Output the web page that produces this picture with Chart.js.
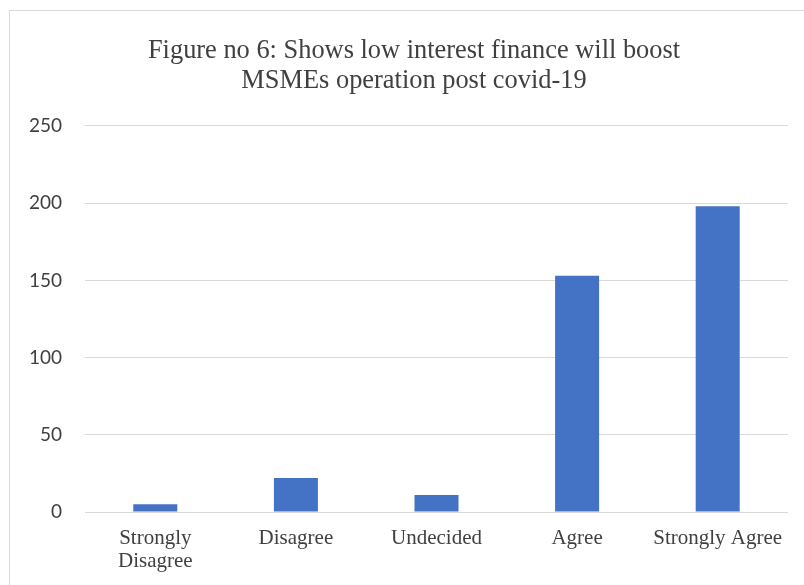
<!DOCTYPE html>
<html>
<head>
<meta charset="utf-8">
<script src="https://cdn.jsdelivr.net/npm/chart.js@4"></script>
<style>
  html, body { margin: 0; padding: 0; background: #ffffff; }
  #frame {
    position: absolute; left: 9px; top: 10px;
    width: 795px; height: 575px;
    border-left: 1px solid #d9d9d9; border-top: 1px solid #d9d9d9;
    box-sizing: border-box;
  }
  #chart { display: block; }
</style>
</head>
<body>
<div id="frame"><canvas id="chart" width="794" height="574"></canvas></div>
<script>
const categories = [["Strongly", "Disagree"], "Disagree", "Undecided", "Agree", "Strongly Agree"];
const responses = [5, 22, 11, 153, 198];
const titleLines = ["Figure no 6: Shows low interest finance will boost", "MSMEs operation post covid-19"];
const yTicks = { min: 0, max: 250, step: 50 };

new Chart(document.getElementById("chart"), {
  type: "bar",
  data: {
    labels: categories,
    datasets: [{
      data: responses,
      backgroundColor: "#4472c4",
      borderWidth: 0,
      barPercentage: 0.313,
      categoryPercentage: 1.0
    }]
  },
  options: {
    responsive: false,
    animation: false,
    layout: { padding: { left: 15, right: 1, top: 0, bottom: 0 } },
    plugins: {
      legend: { display: false },
      tooltip: { enabled: false },
      title: {
        display: true,
        text: titleLines,
        color: "#404040",
        font: { family: "'Liberation Serif', 'Times New Roman', serif", size: 26.4, weight: "normal", lineHeight: 1.136 },
        padding: { top: 25, bottom: 30 }
      }
    },
    scales: {
      x: {
        grid: { display: false, drawTicks: false },
        border: { display: false },
        ticks: {
          color: "#404040",
          padding: 15,
          maxRotation: 0,
          autoSkip: false,
          font: { family: "'Liberation Serif', 'Times New Roman', serif", size: 21, lineHeight: 1.1 }
        },
        afterFit: (scale) => { scale.height = 73; }
      },
      y: {
        min: yTicks.min,
        max: yTicks.max,
        grid: { color: "#d9d9d9", lineWidth: 1, drawTicks: false },
        border: { display: false },
        ticks: {
          stepSize: yTicks.step,
          color: "#404040",
          padding: 23,
          font: { family: "Lato, 'Open Sans', sans-serif", size: 19 }
        },
        afterFit: (scale) => { scale.width = 60; }
      },
      // empty right-hand margin beside the plot
      yRight: {
        position: "right",
        grid: { display: false, drawTicks: false },
        border: { display: false },
        ticks: { display: false },
        afterFit: (scale) => { scale.width = 15; }
      }
    }
  }
});
</script>
</body>
</html>
